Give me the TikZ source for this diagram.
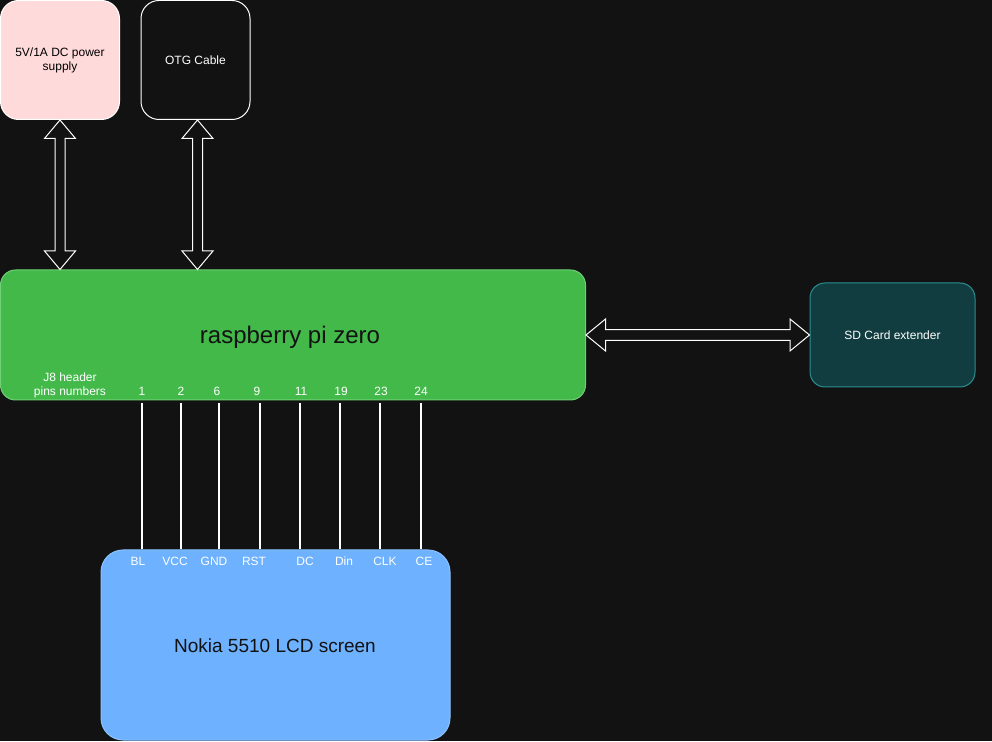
\documentclass[tikz,border=0pt]{standalone}
\usepackage{fontspec}
\setmainfont{Liberation Sans}
\usetikzlibrary{calc}
\definecolor{bgc}{HTML}{121212}
\definecolor{pinkc}{HTML}{FFDADA}
\definecolor{greenc}{HTML}{43B94A}
\definecolor{greenb}{HTML}{6FD075}
\definecolor{bluec}{HTML}{6DB1FF}
\definecolor{blueb}{HTML}{8CC3FF}
\definecolor{sdfill}{HTML}{123D40}
\definecolor{sdborder}{HTML}{2B8E91}
\newcommand\dblvarrow[2]{%
 \draw[blockarrow] let \p1=#1, \p2=#2 in
  (\x1,\y1) -- (\x1+15.5pt,\y1-18.5pt) -- (\x1+5pt,\y1-18.5pt) -- (\x1+5pt,\y2+18.5pt)
  -- (\x1+15.5pt,\y2+18.5pt) -- (\x1,\y2) -- (\x1-15.5pt,\y2+18.5pt) -- (\x1-5pt,\y2+18.5pt)
  -- (\x1-5pt,\y1-18.5pt) -- (\x1-15.5pt,\y1-18.5pt) -- cycle;}
\newcommand\dblharrow[2]{%
 \draw[blockarrow] let \p1=#1, \p2=#2 in
  (\x1,\y1) -- (\x1+19.5pt,\y1+16pt) -- (\x1+19.5pt,\y1+5.3pt) -- (\x2-19.5pt,\y1+5.3pt)
  -- (\x2-19.5pt,\y1+16pt) -- (\x2,\y1) -- (\x2-19.5pt,\y1-16pt) -- (\x2-19.5pt,\y1-5.3pt)
  -- (\x1+19.5pt,\y1-5.3pt) -- (\x1+19.5pt,\y1-16pt) -- cycle;}
\tikzset{
  box/.style={rounded corners=#1, inner sep=0pt, align=center},
  box/.default=16pt,
  small/.style={font=\fontsize{12}{14}\selectfont},
  wtext/.style={small, text=white, inner sep=0pt, align=center},
  blockarrow/.style={draw=white, fill=bgc, line width=1pt, line join=miter},
  pinline/.style={draw=white, line width=2pt},
}
\begin{document}
\begin{tikzpicture}[x=1pt,y=1pt]
\fill[bgc] (0,0) rectangle (992,741);
\useasboundingbox (0,0) rectangle (992,741);
% boxes
\node[box=18pt, fill=pinkc, draw=white, line width=1pt, minimum width=119pt, minimum height=119pt, small] (ps) at (60,681) {5V/1A DC power\\supply};
\node[box=18pt, fill=bgc, draw=white, line width=1pt, minimum width=109pt, minimum height=119pt, small, text=white] (otg) at (195.5,681) {OTG Cable};
\node[box=15pt, fill=greenc, draw=greenb, line width=1pt, minimum width=585pt, minimum height=130pt, text=bgc] (pi) at (293,406) {};
\node[font=\fontsize{24}{28}\selectfont, text=bgc, inner sep=0pt] (pititle) at (290,404) {raspberry pi zero};
\node[box=15pt, fill=sdfill, draw=sdborder, line width=1pt, minimum width=165pt, minimum height=104pt, small, text=white] (sd) at (892.5,406) {SD Card extender};
\node[box=22pt, fill=bluec, draw=blueb, line width=1pt, minimum width=349pt, minimum height=190pt, text=bgc] (lcd) at (275.5,96) {};
\node[font=\fontsize{19}{23}\selectfont, text=bgc, inner sep=0pt] (lcdtitle) at (275,95) {Nokia 5510 LCD screen};
% labels inside pi
\node[wtext] (j8) at (70,356) {J8 header\\pins numbers};
\foreach \n/\x/\lx in {1/142/142, 2/181/181, 6/217/219, 9/257/260, 11/301/300, 19/341/340, 23/381/380, 24/421/421}{
  \node[wtext] (n\n) at (\x,350) {\n};
  \coordinate (p\n) at (\lx,338);
}
% labels inside lcd
\foreach \t/\x in {BL/138, VCC/175, GND/214, RST/254, DC/305, Din/344, CLK/385, CE/424}{
  \node[wtext] (l\t) at (\x,180) {\t};
}
% pin lines
\foreach \n in {1,2,6,9,11,19,23,24}{
  \draw[pinline] (p\n) -- (p\n |- lcd.north);
}
% block arrows
\dblvarrow{(ps.south)}{(ps.south |- pi.north)}
\coordinate (otgs) at (197.5,621);
\dblvarrow{(otgs)}{(otgs |- pi.north)}
\dblharrow{(pi.east)}{(sd.west)}
\end{tikzpicture}
\end{document}
